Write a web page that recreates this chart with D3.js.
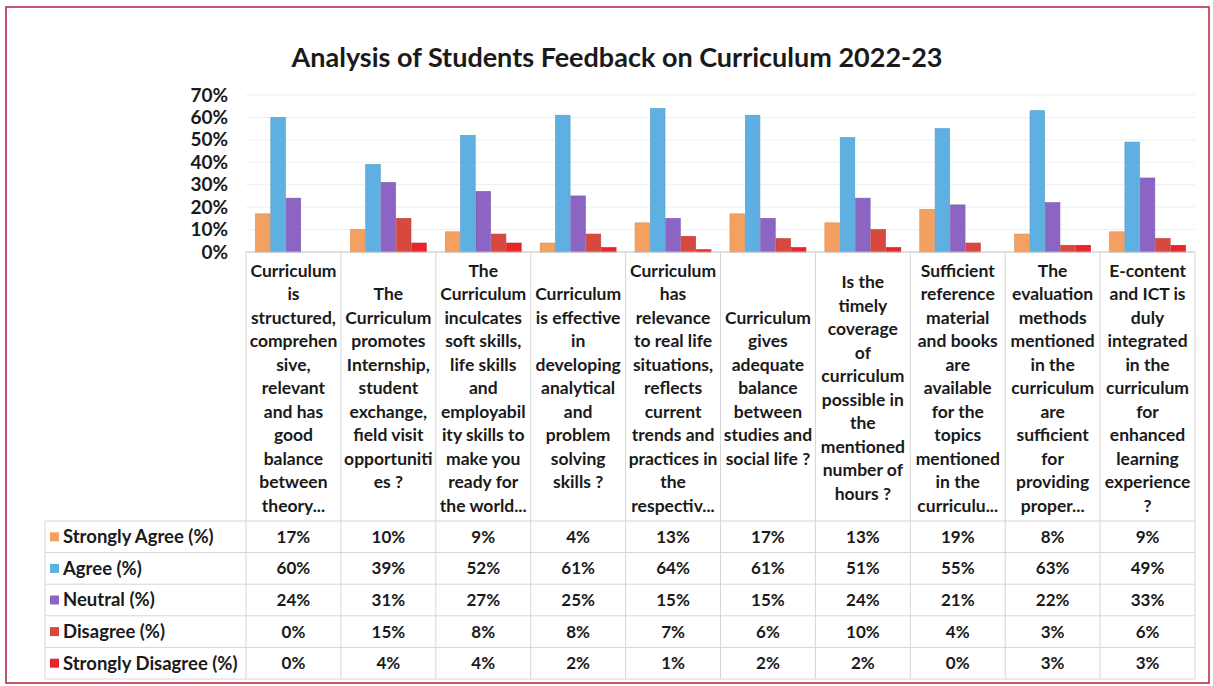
<!DOCTYPE html>
<html>
<head>
<meta charset="utf-8">
<script src="https://cdn.jsdelivr.net/npm/d3@7"></script>
<style>
  body { margin: 0; background: #fff; }
  text { font-family: Lato, "Open Sans", sans-serif; fill: #1a1a1a; }
</style>
</head>
<body>
<svg id="chart" width="1213" height="686"></svg>
<script>
// category labels, wrapped as in the source chart
var categories = [
  ["Curriculum","is","structured,","comprehen","sive,","relevant","and has","good","balance","between","theory..."],
  ["The","Curriculum","promotes","Internship,","student","exchange,","field visit","opportuniti","es ?"],
  ["The","Curriculum","inculcates","soft skills,","life skills","and","employabil","ity skills to","make you","ready for","the world..."],
  ["Curriculum","is effective","in","developing","analytical","and","problem","solving","skills ?"],
  ["Curriculum","has","relevance","to real life","situations,","reflects","current","trends and","practices in","the","respectiv..."],
  ["Curriculum","gives","adequate","balance","between","studies and","social life ?"],
  ["Is the","timely","coverage","of","curriculum","possible in","the","mentioned","number of","hours ?"],
  ["Sufficient","reference","material","and books","are","available","for the","topics","mentioned","in the","curriculu..."],
  ["The","evaluation","methods","mentioned","in the","curriculum","are","sufficient","for","providing","proper..."],
  ["E-content","and ICT is","duly","integrated","in the","curriculum","for","enhanced","learning","experience","?"]
]
var seriesNames = ["Strongly Agree (%)", "Agree (%)", "Neutral (%)", "Disagree (%)", "Strongly Disagree (%)"]
var seriesColors = ["#f4a060", "#5eb0e2", "#8c65c4", "#d8483e", "#e8252b"]

var stronglyAgree    = [17, 10, 9, 4, 13, 17, 13, 19, 8, 9]
var agree            = [60, 39, 52, 61, 64, 61, 51, 55, 63, 49]
var neutral          = [24, 31, 27, 25, 15, 15, 24, 21, 22, 33]
var disagree         = [0, 15, 8, 8, 7, 6, 10, 4, 3, 6]
var stronglyDisagree = [0, 4, 4, 2, 1, 2, 2, 0, 3, 3]
var values = [stronglyAgree, agree, neutral, disagree, stronglyDisagree]

var yTicks = [0, 10, 20, 30, 40, 50, 60, 70]

var svg = d3.select("#chart")

var xleft = 246, xright = 1195
var ytop = 95, ybase = 252
var tableLeft = 45, rowTop = 521, rowH = 31.6

var x0 = d3.scaleBand().domain(d3.range(categories.length)).range([xleft, xright])
var x1 = d3.scaleBand().domain(d3.range(seriesNames.length))
  .range([x0.bandwidth() * 0.1, x0.bandwidth() * 0.9]).paddingInner(0.05)
var y = d3.scaleLinear().domain([0, 70]).range([ybase, ytop])

// outer frame
svg.append("rect")
  .attr("x", 6).attr("y", 7).attr("width", 1203).attr("height", 676)
  .attr("fill", "none").attr("stroke", "#b5304a").attr("stroke-width", 1.6)

svg.append("text")
  .attr("x", 617).attr("y", 67)
  .attr("text-anchor", "middle")
  .attr("font-size", "27px").attr("font-weight", "bold")
  .text("Analysis of Students Feedback on Curriculum 2022-23")

// gridlines
svg.append("g")
  .selectAll("line").data(yTicks.slice(1)).enter().append("line")
  .attr("x1", xleft).attr("x2", xright)
  .attr("y1", function(d){return y(d)}).attr("y2", function(d){return y(d)})
  .attr("stroke", "#efefef")

// y axis labels
var yAxis = svg.append("g")
  .attr("transform", "translate(" + (xleft + 4) + ",0)")
  .call(d3.axisLeft(y).tickValues(yTicks).tickSize(0).tickPadding(22)
    .tickFormat(function(d){return d + "%"}))
yAxis.select(".domain").remove()
yAxis.selectAll("text")
  .attr("font-size", "19px").attr("font-weight", "bold")
  .style("font-family", "Lato, sans-serif").attr("fill", "#1a1a1a")

// bars
var groups = svg.append("g").selectAll("g")
  .data(categories).enter().append("g")
  .attr("transform", function(d, i){return "translate(" + x0(i) + ",0)"})

groups.selectAll("rect")
  .data(function(d, i){return values.map(function(s, k){return [k, s[i]]})})
  .enter().append("rect")
  .attr("x", function(d){return x1(d[0])})
  .attr("y", function(d){return y(d[1])})
  .attr("width", x1.bandwidth())
  .attr("height", function(d){return ybase - y(d[1])})
  .attr("fill", function(d){return seriesColors[d[0]]})
  .attr("stroke", function(d){return d3.color(seriesColors[d[0]]).darker(0.4)})
  .attr("stroke-width", 0.6)

// data table grid
var tableBottom = rowTop + rowH * seriesNames.length
var grid = svg.append("g").attr("stroke", "#d6d6d6").attr("stroke-width", 1)

grid.append("line")
  .attr("x1", xleft).attr("x2", xright).attr("y1", ybase).attr("y2", ybase)
  .attr("stroke", "#bdbdbd")

grid.selectAll("line.v")
  .data(d3.range(categories.length + 1)).enter().append("line")
  .attr("class", "v")
  .attr("x1", function(d){return xleft + d * x0.step()})
  .attr("x2", function(d){return xleft + d * x0.step()})
  .attr("y1", ybase).attr("y2", tableBottom)

grid.append("line")
  .attr("x1", tableLeft).attr("x2", tableLeft).attr("y1", rowTop).attr("y2", tableBottom)

grid.selectAll("line.h")
  .data(d3.range(seriesNames.length + 1)).enter().append("line")
  .attr("class", "h")
  .attr("x1", tableLeft).attr("x2", xright)
  .attr("y1", function(d){return rowTop + d * rowH})
  .attr("y2", function(d){return rowTop + d * rowH})

// category labels
var lineH = 23.5, labelMid = 388
groups.append("text")
  .attr("text-anchor", "middle")
  .attr("font-size", "17.5px").attr("font-weight", "bold")
  .selectAll("tspan")
  .data(function(d){
    var top = labelMid - (d.length - 1) * lineH / 2
    return d.map(function(t, j){return {t: t, y: top + j * lineH}})
  })
  .enter().append("tspan")
  .attr("x", x0.bandwidth() / 2)
  .attr("y", function(d){return d.y})
  .attr("dy", "0.35em")
  .text(function(d){return d.t})

// legend column and values
var rows = svg.append("g").selectAll("g")
  .data(seriesNames).enter().append("g")
  .attr("transform", function(d, k){return "translate(0," + (rowTop + k * rowH + rowH / 2) + ")"})

rows.append("rect")
  .attr("x", 50).attr("y", -4.5).attr("width", 9).attr("height", 9)
  .attr("fill", function(d, k){return seriesColors[k]})

rows.append("text")
  .attr("x", 63).attr("dy", "0.35em")
  .attr("font-size", "18.5px").attr("font-weight", "bold")
  .text(function(d){return d})

rows.selectAll("text.val")
  .data(function(d, k){return values[k]})
  .enter().append("text")
  .attr("class", "val")
  .attr("x", function(d, i){return x0(i) + x0.bandwidth() / 2})
  .attr("dy", "0.35em")
  .attr("text-anchor", "middle")
  .attr("font-size", "17px").attr("font-weight", "bold")
  .text(function(d){return d + "%"})
</script>
</body>
</html>
